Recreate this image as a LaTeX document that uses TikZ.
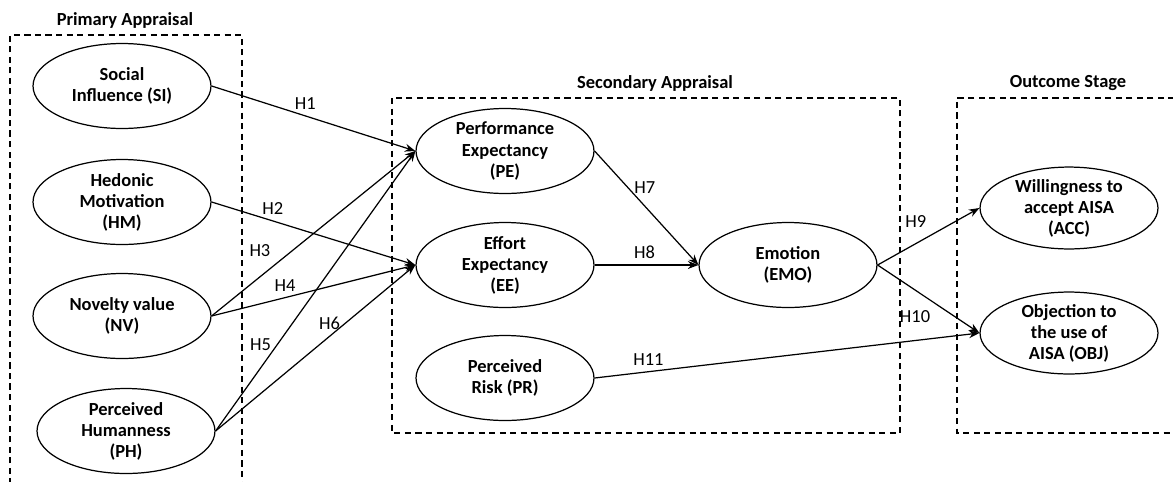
\documentclass[tikz,border=0pt]{standalone}
\usepackage{fontspec}
\setmainfont{Carlito}
\usetikzlibrary{arrows.meta}
\usetikzlibrary{shapes.geometric}

\tikzset{
        construct/.style={draw, ellipse, minimum width=3.56cm, minimum height=1.7cm, inner sep=0pt, align=center, font=\fontsize{10.5}{12}\selectfont\bfseries},
        stage/.style={dash pattern=on 3.5pt off 2.5pt},
        stagetitle/.style={font=\fontsize{10.5}{12}\selectfont\bfseries},
        hyp/.style={font=\fontsize{10.5}{12}\selectfont}
}

\begin{document}
\begin{tikzpicture}[x=0.02cm, y=-0.02cm, line width=0.7pt, >={Stealth[length=6pt, width=4.5pt]}]
        \useasboundingbox (0, 0) rectangle (1173, 481);

        \draw (125, 20) node[stagetitle] (primary) {Primary Appraisal};
        \draw (655, 83) node[stagetitle] (secondary) {Secondary Appraisal};
        \draw (1068, 83) node[stagetitle] (outcome) {Outcome Stage};

        \draw[stage] (10, 495) -- (10, 35) -- (242, 35) -- (242, 495);
        \draw[stage] (392, 98) rectangle (900, 433);
        \draw[stage] (1185, 98) -- (957, 98) -- (957, 433) -- (1185, 433);

        \draw (122, 86) node[construct] (SI) {Social\\Influence (SI)};
        \draw (122, 202) node[construct] (HM) {Hedonic\\Motivation\\(HM)};
        \draw (122, 316) node[construct] (NV) {Novelty value\\(NV)};
        \draw (126, 431) node[construct] (PH) {Perceived\\Humanness\\(PH)};

        \draw (505, 151) node[construct] (PE) {Performance\\Expectancy\\(PE)};
        \draw (505, 265) node[construct] (EE) {Effort\\Expectancy\\(EE)};
        \draw (505, 378) node[construct] (PR) {Perceived\\Risk (PR)};
        \draw (788, 265) node[construct] (EMO) {Emotion\\(EMO)};

        \draw (1069, 208) node[construct, minimum height=1.6cm] (ACC) {Willingness to\\accept AISA\\(ACC)};
        \draw (1069, 333) node[construct, minimum height=1.6cm] (OBJ) {Objection to\\the use of\\AISA (OBJ)};

        \draw[->] (SI.east) -- node[hyp, pos=.46, above] {H1} (PE.west);
        \draw[->] (HM.east) -- node[hyp, pos=.3, above] {H2} (EE.west);
        \draw[->] (NV.east) -- node[hyp, pos=.32, above left] {H3} (PE.west);
        \draw[->] (NV.east) -- node[hyp, pos=.36, above] {H4} (EE.west);
        \draw[->] (PH.east) -- node[hyp, pos=.31, left] {H5} (PE.west);
        \draw[->] (PH.east) -- node[hyp, pos=.57, above] {H6} (EE.west);
        \draw[->] (PE.east) -- node[hyp, pos=.32, right] {H7} (EMO.west);
        \draw[->] (EE.east) -- node[hyp, pos=.48, above] {H8} (EMO.west);
        \draw[->] (EMO.east) -- node[hyp, pos=.54, above left] {H9} (ACC.west);
        \draw[->] (EMO.east) -- node[hyp, pos=.58, below left] {H10} (OBJ.west);
        \draw[->] (PR.east) -- node[hyp, pos=.14, above] {H11} (OBJ.west);
\end{tikzpicture}
\end{document}
